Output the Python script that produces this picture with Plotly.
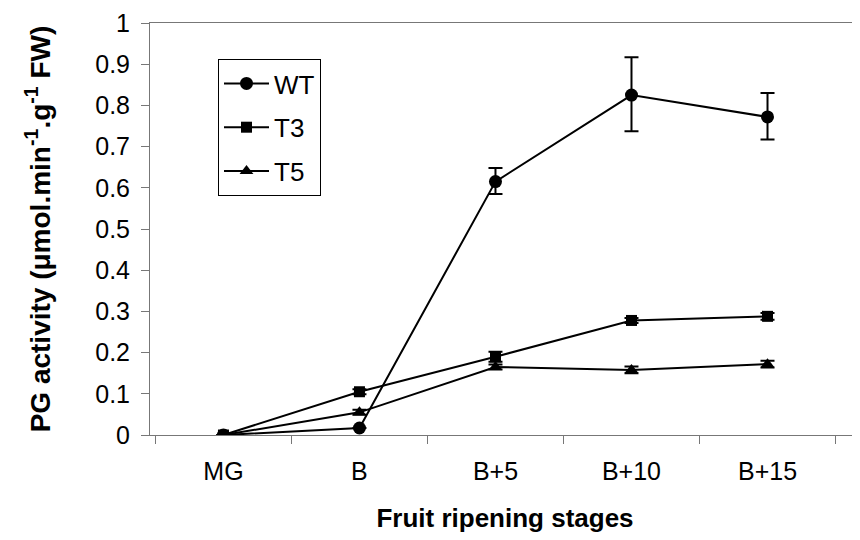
import plotly.graph_objects as go

stages = ["MG", "B", "B+5", "B+10", "B+15"]
wt = [0.0, 0.017, 0.615, 0.825, 0.772]
wt_err_plus = [0.0, 0.0, 0.033, 0.092, 0.058]
wt_err_minus = [0.0, 0.0, 0.030, 0.088, 0.055]
t3 = [0.0, 0.105, 0.19, 0.278, 0.288]
t3_err = [0.0, 0.006, 0.012, 0.006, 0.008]
t5 = [0.0, 0.055, 0.165, 0.158, 0.172]
t5_err = [0.0, 0.006, 0.006, 0.008, 0.008]

fig = go.Figure()

def add(name, y, ep, em, symbol, size, group):
    fig.add_trace(go.Scatter(
        x=stages, y=y, name=name, mode="lines+markers",
        legendgroup=group,
        line=dict(color="black", width=2),
        marker=dict(symbol=symbol, size=size, color="black"),
        error_y=dict(type="data", array=ep, arrayminus=em, visible=True,
                     color="black", thickness=2, width=7),
    ))

add("WT", wt, wt_err_plus, wt_err_minus, "circle", 13, "g1")
add("T3", t3, t3_err, t3_err, "square", 11, "g2")
add("T5", t5, t5_err, t5_err, "triangle-up", 12, "g3")

# page body has an 8px offset; figure is sized to fill the rest of the window
W, H = 852, 532
L, R, T, B = 142, 0, 15, 105
pw, ph = W - L - R, H - T - B

fig.update_layout(
    width=W, height=H,
    margin=dict(l=L, r=R, t=T, b=B, autoexpand=False),
    paper_bgcolor="white", plot_bgcolor="white",
    font=dict(family="Arial, Liberation Sans, sans-serif", size=25, color="black"),
    showlegend=True,
    legend=dict(x=(218 - 150) / pw, y=1 - (59 - 23) / ph,
                xanchor="left", yanchor="top",
                bgcolor="white", bordercolor="black", borderwidth=1,
                itemwidth=45,
                font=dict(size=26), tracegroupgap=7),
)

fig.update_xaxes(
    type="category", range=[-0.54, 4.68], automargin=False,
    tickson="boundaries", ticks="outside", ticklen=8, tickcolor="#777",
    showline=True, linecolor="#777", linewidth=1, mirror=True,
    showgrid=False, zeroline=False,
    ticklabelstandoff=14,
    tickfont=dict(size=25),
    title=dict(text="<b>Fruit ripening stages</b>", font=dict(size=26), standoff=24),
)
fig.update_yaxes(
    range=[0, 1], dtick=0.1, tickformat="~g", automargin=False,
    ticks="outside", ticklen=8, tickcolor="#777",
    showline=True, linecolor="#777", linewidth=1, mirror=False,
    showgrid=False, zeroline=False,
    tickfont=dict(size=25),
    ticklabelstandoff=6, ticklabeloverflow="allow",
    title=dict(text="<b>PG activity (μmol.min<sup>-1</sup>.g<sup>-1</sup> FW)</b>",
               font=dict(size=28), standoff=36),
)

fig.write_html("out.html")
